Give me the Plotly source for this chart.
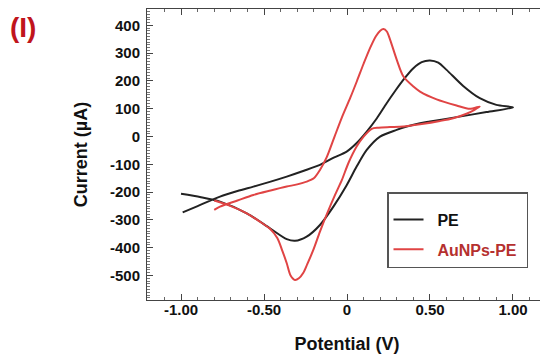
import plotly.graph_objects as go

# PE (black): anodic sweep then cathodic sweep
pe_v = [-0.99, -0.90, -0.765, -0.66, -0.564, -0.46, -0.363, -0.26, -0.163, -0.08, -0.002, 0.06,
        0.119, 0.18, 0.239, 0.29, 0.339, 0.40, 0.45, 0.50, 0.55, 0.60, 0.70, 0.80, 0.90, 1.00,
        0.84, 0.66, 0.50, 0.44, 0.36, 0.299, 0.199, 0.119, 0.058, -0.002, -0.082, -0.163,
        -0.243, -0.313, -0.363, -0.464, -0.604, -0.765, -0.88, -1.00]
pe_i = [-273, -250, -216, -196, -180, -162, -144, -123, -102, -76, -54, -22,
        18, 66, 120, 164, 204, 246, 268, 274, 266, 240, 182, 138, 114, 105,
        88, 70, 54, 48, 36, 24, 0, -48, -108, -175, -252, -318,
        -360, -375, -369, -330, -276, -234, -218, -206]

# AuNPs-PE (red)
au_v = [-0.80, -0.765, -0.66, -0.564, -0.46, -0.363, -0.30, -0.243, -0.20, -0.163, -0.122, -0.075,
        -0.03, 0.02, 0.06, 0.10, 0.14, 0.175, 0.20, 0.22, 0.24, 0.26, 0.30, 0.34, 0.40, 0.44,
        0.54, 0.66, 0.74, 0.80,
        0.72, 0.64, 0.56, 0.44, 0.34, 0.259, 0.19, 0.149, 0.10, 0.058, 0.008, -0.03, -0.072,
        -0.122, -0.163, -0.203, -0.24, -0.263, -0.29, -0.313, -0.34, -0.363, -0.39, -0.42,
        -0.464, -0.53, -0.604, -0.70, -0.80]
au_i = [-264, -252, -230, -210, -194, -180, -172, -162, -150, -120, -74, 0,
        70, 140, 200, 262, 320, 362, 381, 387, 378, 348, 276, 216, 180, 162,
        134, 112, 100, 108,
        82, 66, 56, 44, 36, 34, 32, 28, 0, -36, -96, -155, -210,
        -280, -342, -408, -460, -490, -510, -516, -500, -456, -410, -365,
        -332, -304, -276, -250, -230]

x_tickvals = [-1.0, -0.5, 0.0, 0.5, 1.0]
x_ticktext = ["-1.00", "-0.50", "0", "0.50", "1.00"]
y_tickvals = [400, 300, 200, 100, 0, -100, -200, -300, -400, -500]
y_ticktext = ["400", "300", "200", "100", "0", "-100", "-200", "-300", "-400", "-500"]

FONT = "Arial, Liberation Sans, sans-serif"

fig = go.Figure()
fig.add_trace(go.Scatter(x=pe_v, y=pe_i, mode="lines", name="\u00a0\u00a0<b>PE</b>",
                         legendgroup="a",
                         line=dict(color="#222222", width=2, shape="spline", smoothing=0.8)))
fig.add_trace(go.Scatter(x=au_v, y=au_i, mode="lines",
                         name="\u00a0\u00a0<span style='color:#b5302f'><b>AuNPs-PE</b></span>\u00a0",
                         legendgroup="b",
                         line=dict(color="#e04444", width=2, shape="spline", smoothing=0.8)))

axis_common = dict(showline=True, linecolor="#444", linewidth=1, mirror="allticks",
                   ticks="inside", ticklen=6, tickcolor="#444", showgrid=False,
                   zeroline=False, tickfont=dict(family=FONT, size=15, color="#111"))

fig.update_xaxes(range=[-1.205, 1.205], tickvals=x_tickvals,
                 ticktext=["<b>" + t + "</b>" for t in x_ticktext],
                 ticklabelstandoff=-4,
                 minor=dict(dtick=0.1, ticks="inside", ticklen=3, tickcolor="#666"),
                 title=dict(text="<b>Potential (V)</b>", font=dict(family=FONT, size=18, color="#111"),
                            standoff=20),
                 **axis_common)
fig.update_yaxes(range=[-588, 459], tickvals=y_tickvals,
                 ticktext=["<b>" + t + "</b>" for t in y_ticktext],
                 ticklabelstandoff=3,
                 minor=dict(dtick=10, ticks="inside", ticklen=3, tickcolor="#777"),
                 title=dict(text="<b>Current (µA)</b>", font=dict(family=FONT, size=18, color="#111"),
                            standoff=17),
                 **axis_common)

fig.add_annotation(text="<b>(I)</b>", xref="paper", yref="paper", x=-0.309, y=0.935,
                   xanchor="center", yanchor="middle", showarrow=False,
                   font=dict(family=FONT, size=28, color="#c0141c"))

# page body has an 8px default margin; margins below compensate for it
fig.update_layout(
    width=548, height=360,
    margin=dict(l=139, r=9, t=1, b=68, autoexpand=False),
    plot_bgcolor="white", paper_bgcolor="white",
    showlegend=True,
    legend=dict(x=0.60, y=0.371, xanchor="left", yanchor="top",
                bordercolor="#555", borderwidth=1.5, bgcolor="white",
                font=dict(family=FONT, size=16, color="#111"),
                title=dict(text=" ", font=dict(size=7)),
                itemwidth=30, tracegroupgap=6),
)

fig.write_html("out.html")
